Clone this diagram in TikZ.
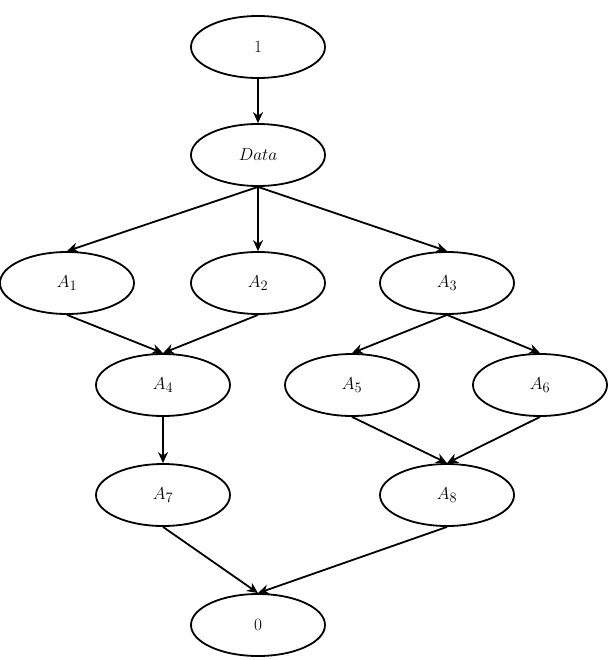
\documentclass[tikz,border=0pt]{standalone}
\usetikzlibrary{arrows.meta,shapes.geometric}
\begin{document}
\begin{tikzpicture}[x=1pt,y=-1pt,
  el/.style={draw,line width=1.8pt,ellipse,minimum width=134pt,minimum height=62pt,inner sep=0pt,font=\fontsize{19}{22}\selectfont},
  ar/.style={line width=1.8pt,-{Stealth[length=11pt,width=10pt]}}]
\useasboundingbox (0,0) rectangle (610,660);
\node[el] (n1) at (258,47) {$1$};
\node[el] (d) at (258,155) {$Data$};
\node[el] (a1) at (67,283) {$A_1$};
\node[el] (a2) at (258,283) {$A_2$};
\node[el] (a3) at (447,283) {$A_3$};
\node[el] (a4) at (163,385) {$A_4$};
\node[el] (a5) at (352,385) {$A_5$};
\node[el] (a6) at (540,385) {$A_6$};
\node[el] (a7) at (163,495) {$A_7$};
\node[el] (a8) at (447,495) {$A_8$};
\node[el] (n0) at (258,625) {$0$};
\draw[ar] (n1.south) -- (d.north);
\draw[ar] (d.south) -- (a1.north);
\draw[ar] (d.south) -- (a2.north);
\draw[ar] (d.south) -- (a3.north);
\draw[ar] (a1.south) -- (a4.north);
\draw[ar] (a2.south) -- (a4.north);
\draw[ar] (a3.south) -- (a5.north);
\draw[ar] (a3.south) -- (a6.north);
\draw[ar] (a4.south) -- (a7.north);
\draw[ar] (a5.south) -- (a8.north);
\draw[ar] (a6.south) -- (a8.north);
\draw[ar] (a7.south) -- (n0.north);
\draw[ar] (a8.south) -- (n0.north);
\end{tikzpicture}
\end{document}
